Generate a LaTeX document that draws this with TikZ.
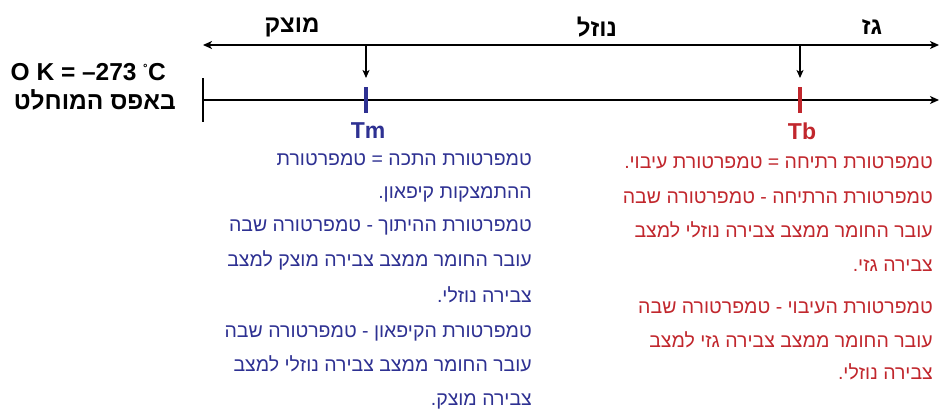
\documentclass[tikz,border=0pt]{standalone}
\usepackage{fontspec}
\setmainfont{Liberation Sans}
\newfontfamily\heb[Script=Hebrew]{Liberation Sans}
\TeXXeTstate=1
\usetikzlibrary{arrows.meta}
\definecolor{meltblue}{RGB}{46,49,146}
\definecolor{boilred}{RGB}{193,39,45}
\newcommand\rtl[1]{{\heb\beginR #1\endR}}

\tikzset{
  axis/.style={line width=1.8pt, black},
  drop/.style={line width=1.2pt, black, -{Stealth[length=8pt,width=7pt,inset=2pt]}},
  phase/.style={font=\heb\bfseries\fontsize{24}{26}\selectfont, inner sep=0pt},
  zerolbl/.style={font=\bfseries\fontsize{24.5}{26}\selectfont, inner sep=0pt},
  marklbl/.style={font=\bfseries\fontsize{23}{26}\selectfont, inner sep=0pt},
  bluetxt/.style={font=\fontsize{19.5}{22}\selectfont, text=meltblue, inner sep=0pt, anchor=base east},
  redtxt/.style={font=\fontsize{19.5}{22}\selectfont, text=boilred, inner sep=0pt, anchor=base east},
}

\begin{document}
\begin{tikzpicture}[x=1pt,y=-1pt]
\useasboundingbox (0,0) rectangle (939,412);

% phase axis (top) and temperature axis (bottom)
\coordinate (topL) at (203,45);
\coordinate (topR) at (939,45);
\coordinate (axL) at (203,100);
\coordinate (axR) at (939,100);
\coordinate (barT) at (203,78);
\coordinate (barB) at (203,122);
\draw[axis, {Stealth[length=9pt,width=8pt,inset=2.5pt]}-{Stealth[length=9pt,width=8pt,inset=2.5pt]}] (topL) -- (topR);
\draw[axis, -{Stealth[length=9pt,width=8pt,inset=2.5pt]}] (axL) -- (axR);
\draw[axis] (barT) -- (barB);

% phase names
\node[phase] (solid) at (292,27) {\rtl{מוצק}};
\node[phase] (liquid) at (597,27) {\rtl{נוזל}};
\node[phase] (gas) at (872,27) {\rtl{גז}};

% absolute zero
\node[zerolbl, anchor=east] (zeroK) at (166,72) {O K = –273 \raisebox{0.35ex}{\fontsize{14}{14}\selectfont˚}C};
\node[zerolbl, anchor=east] (zeroheb) at (176,100) {\rtl{באפס המוחלט}};

% melting point
\coordinate (mTop) at (366,45);
\coordinate (mEnd) at (366,78);
\coordinate (mT1) at (366,87);
\coordinate (mT2) at (366,113);
\draw[drop] (mTop) -- (mEnd);
\draw[meltblue, line width=4pt] (mT1) -- (mT2);
\node[marklbl, text=meltblue] (Tm) at (368,131) {Tm};

% boiling point
\coordinate (bTop) at (800,45);
\coordinate (bEnd) at (800,78);
\coordinate (bT1) at (800,87);
\coordinate (bT2) at (800,113);
\draw[drop] (bTop) -- (bEnd);
\draw[boilred, line width=4pt] (bT1) -- (bT2);
\node[marklbl, text=boilred] (Tb) at (802,131) {Tb};

% melting / freezing definitions
\node[bluetxt] (m1) at (532,165) {\rtl{טמפרטורת התכה = טמפרטורת}};
\node[bluetxt] (m2) at (532,198) {\rtl{ההתמצקות קיפאון.}};
\node[bluetxt] (m3) at (532,231) {\rtl{טמפרטורת ההיתוך - טמפרטורה שבה}};
\node[bluetxt] (m4) at (532,266) {\rtl{עובר החומר ממצב צבירה מוצק למצב}};
\node[bluetxt] (m5) at (532,302) {\rtl{צבירה נוזלי.}};
\node[bluetxt] (m6) at (532,337) {\rtl{טמפרטורת הקיפאון - טמפרטורה שבה}};
\node[bluetxt] (m7) at (532,371) {\rtl{עובר החומר ממצב צבירה נוזלי למצב}};
\node[bluetxt] (m8) at (532,405) {\rtl{צבירה מוצק.}};

% boiling / condensation definitions
\node[redtxt] (b1) at (933,168) {\rtl{טמפרטורת רתיחה = טמפרטורת עיבוי.}};
\node[redtxt] (b2) at (933,203) {\rtl{טמפרטורת הרתיחה - טמפרטורה שבה}};
\node[redtxt] (b3) at (933,237) {\rtl{עובר החומר ממצב צבירה נוזלי למצב}};
\node[redtxt] (b4) at (933,271) {\rtl{צבירה גזי.}};
\node[redtxt] (b5) at (933,313) {\rtl{טמפרטורת העיבוי - טמפרטורה שבה}};
\node[redtxt] (b6) at (933,347) {\rtl{עובר החומר ממצב צבירה גזי למצב}};
\node[redtxt] (b7) at (933,379) {\rtl{צבירה נוזלי.}};
\end{tikzpicture}
\end{document}
